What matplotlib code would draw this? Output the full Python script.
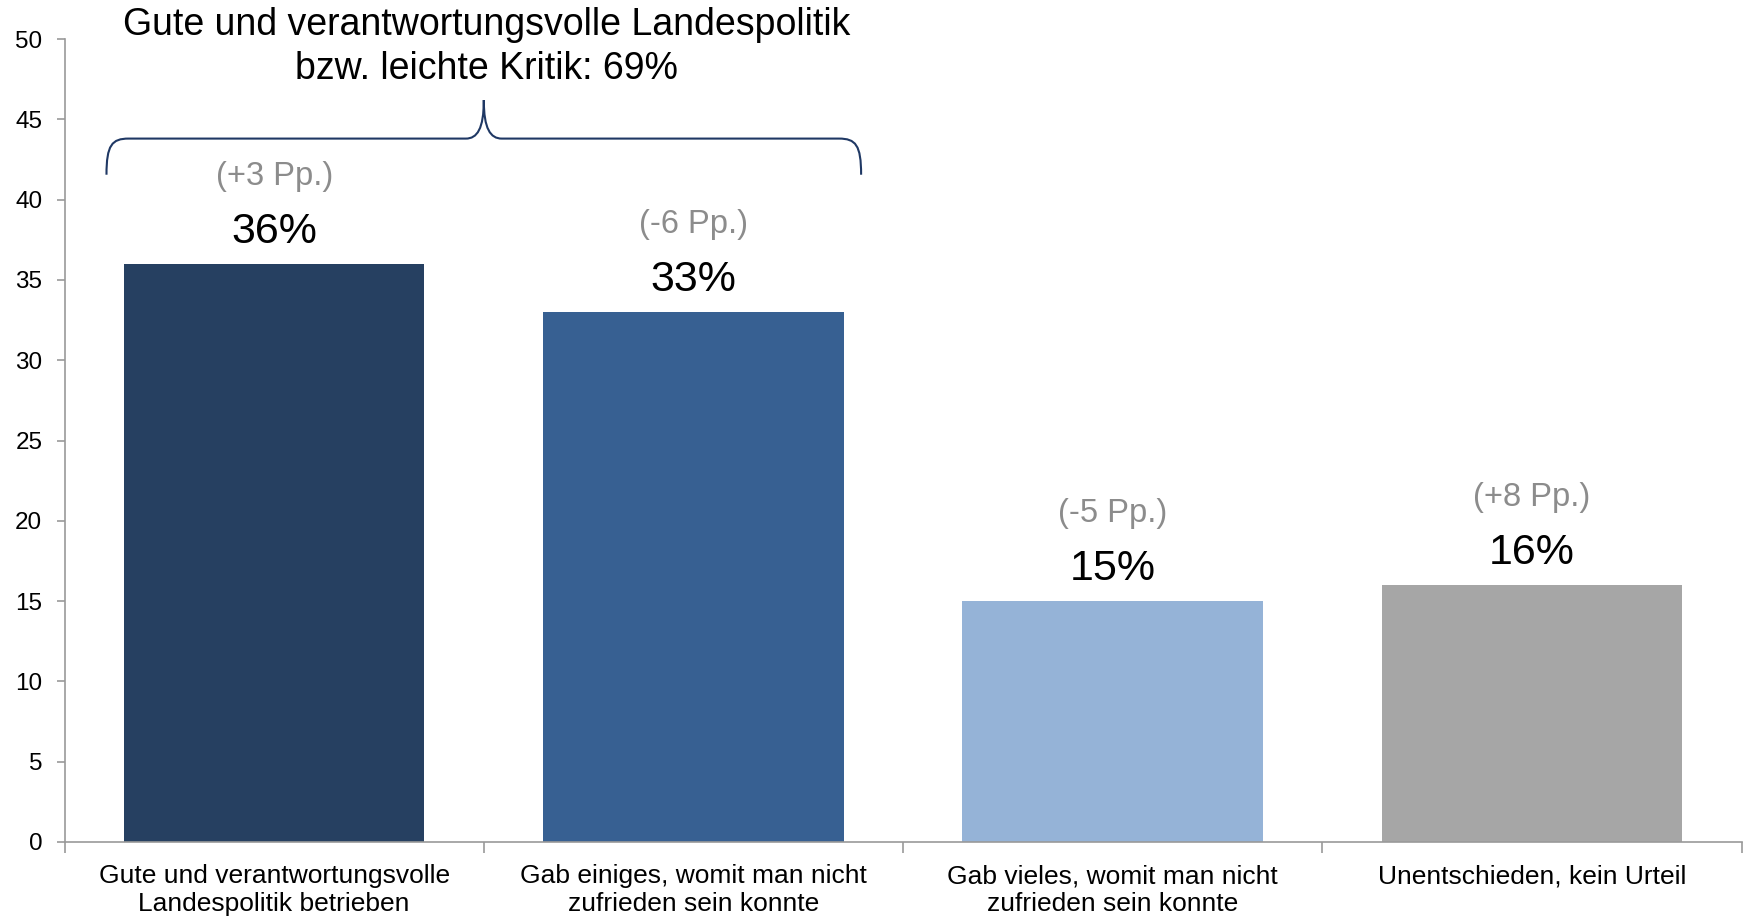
import matplotlib.pyplot as plt
from matplotlib.path import Path
from matplotlib.patches import PathPatch

categories = [
    "Gute und verantwortungsvolle\nLandespolitik betrieben",
    "Gab einiges, womit man nicht\nzufrieden sein konnte",
    "Gab vieles, womit man nicht\nzufrieden sein konnte",
    "Unentschieden, kein Urteil",
]
values = [36, 33, 15, 16]
changes = ["(+3 Pp.)", "(-6 Pp.)", "(-5 Pp.)", "(+8 Pp.)"]
colors = ["#264061", "#376092", "#95B3D7", "#A6A6A6"]
bracket_title = "Gute und verantwortungsvolle Landespolitik\nbzw. leichte Kritik: 69%"

plt.rcParams["font.family"] = ["Liberation Sans", "DejaVu Sans"]

fig = plt.figure(figsize=(17.45, 9.18), dpi=100)
ax = fig.add_axes([0.037, 0.0828, 0.961, 0.8747])

x = list(range(len(values)))
ax.bar(x, values, width=0.717, color=colors, zorder=2)

for xi, v, ch in zip(x, values, changes):
    ax.text(xi, v + 2.0, f"{v}%", ha="center", va="center", fontsize=31, color="black")
    ax.text(xi, v + 5.45, ch, ha="center", va="center", fontsize=23.5, color="#8C8C8C")

ax.set_xlim(-0.5, len(values) - 0.5)
ax.set_ylim(0, 50)
ax.set_yticks(range(0, 51, 5))
ax.tick_params(axis="y", labelsize=17.5, length=6, width=1.2, color="#999999", pad=10)

ax.set_xticks(x)
ax.set_xticklabels(categories, fontsize=19, linespacing=1.2)
ax.set_xticks([i + 0.5 for i in range(-1, len(values))], minor=True)
ax.tick_params(axis="x", which="major", length=0, pad=16)
ax.tick_params(axis="x", which="minor", length=8, width=1.2, color="#999999")

for side in ["top", "right"]:
    ax.spines[side].set_visible(False)
for side in ["left", "bottom"]:
    ax.spines[side].set_color("#999999")
    ax.spines[side].set_linewidth(1.2)

# curly bracket over the first two bars
l, r, m = -0.40, 1.40, 0.5
yb, yh, yt = 41.55, 43.8, 46.2
verts = [
    (l, yb), (l, 43.4), (l + 0.013, yh), (l + 0.053, yh),
    (m - 0.043, yh),
    (m - 0.016, yh), (m, 44.4), (m, yt),
    (m, 44.4), (m + 0.016, yh), (m + 0.043, yh),
    (r - 0.053, yh),
    (r - 0.013, yh), (r, 43.4), (r, yb),
]
codes = [Path.MOVETO, Path.CURVE4, Path.CURVE4, Path.CURVE4,
         Path.LINETO,
         Path.CURVE4, Path.CURVE4, Path.CURVE4,
         Path.CURVE4, Path.CURVE4, Path.CURVE4,
         Path.LINETO,
         Path.CURVE4, Path.CURVE4, Path.CURVE4]
ax.add_patch(PathPatch(Path(verts, codes), fill=False, edgecolor="#1F3864",
                       linewidth=1.5, clip_on=False, zorder=3))

ax.text(0.506, 49.5, bracket_title, ha="center", va="center", fontsize=27,
        linespacing=1.27, clip_on=False)

fig.savefig("out.png", dpi=100)
